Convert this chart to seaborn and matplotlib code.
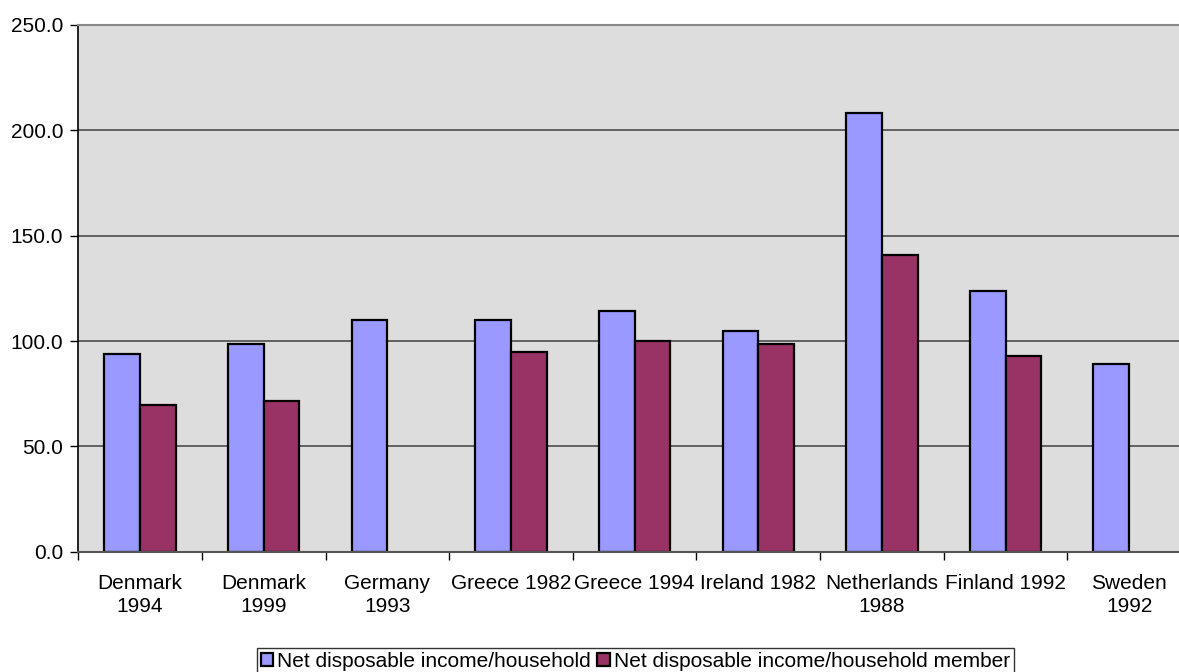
# Net disposable income bar chart, Excel-like look
import matplotlib
matplotlib.use('Agg')
import matplotlib.pyplot as plt
import matplotlib.ticker as mticker
import pandas as pd
import seaborn as sns

# data
countries = ['Denmark\n1994', 'Denmark\n1999', 'Germany\n1993', 'Greece 1982', 'Greece 1994',
             'Ireland 1982', 'Netherlands\n1988', 'Finland 1992', 'Sweden\n1992']
per_household = [93.8, 98.7, 110.1, 110.1, 114.4, 104.9, 208.1, 123.6, 89.1]
per_member = [69.6, 71.4, None, 94.8, 99.8, 98.4, 141.0, 93.0, None]
series_names = ['Net disposable income/household', 'Net disposable income/household member']

# long format table for seaborn, missing values dropped
rows = []
for c, a, b in zip(countries, per_household, per_member):
    rows.append({'Country': c, 'Series': series_names[0], 'Value': a})
    if b is not None:
        rows.append({'Country': c, 'Series': series_names[1], 'Value': b})
df = pd.DataFrame(rows)

sns.set_style('white')
plt.rcParams['font.family'] = ['Liberation Sans', 'DejaVu Sans']
plt.rcParams['font.size'] = 15
plt.rcParams['text.color'] = 'black'
plt.rcParams['xtick.color'] = 'black'
plt.rcParams['ytick.color'] = 'black'

palette = {series_names[0]: '#9999FF', series_names[1]: '#993366'}

fig = plt.figure(figsize=(11.79, 6.72), dpi=100)
ax = fig.add_axes([0.0664, 0.179, 0.9438, 0.7838])
ax.set_facecolor('#DDDDDD')

sns.barplot(data=df, x='Country', y='Value', hue='Series',
            order=countries, hue_order=series_names,
            palette=palette, saturation=1, width=0.578,
            edgecolor='black', linewidth=1.6, errorbar=None, ax=ax)

# axes look
ax.set_ylim(0, 250)
ax.set_xlim(-0.5, len(countries) - 0.5)
ax.yaxis.set_major_locator(mticker.MultipleLocator(50))
ax.yaxis.set_major_formatter(mticker.FormatStrFormatter('%.1f'))
ax.set_axisbelow(True)
ax.grid(axis='y', color='#404040', linewidth=1.1)
ax.grid(axis='x', visible=False)
ax.set_xlabel('')
ax.set_ylabel('')

# ticks on category boundaries, labels on centres
ax.set_xticks([i - 0.5 for i in range(len(countries) + 1)])
ax.set_xticklabels([])
ax.set_xticks(range(len(countries)), minor=True)
ax.set_xticklabels(countries, minor=True, linespacing=1.3)
ax.tick_params(axis='x', which='major', direction='out', length=6, width=1, color='black', bottom=True)
ax.tick_params(axis='x', which='minor', length=0, pad=16, labelsize=15, labelcolor='black')
ax.tick_params(axis='y', direction='out', length=6, width=1, color='black', left=True, pad=5,
               labelsize=15, labelcolor='black')

ax.spines['left'].set_color('black')
ax.spines['left'].set_linewidth(1.2)
ax.spines['bottom'].set_color('#555555')
ax.spines['bottom'].set_linewidth(1.5)
ax.spines['top'].set_color('#888888')
ax.spines['top'].set_linewidth(1.5)
ax.spines['right'].set_visible(False)

# legend in a box at the bottom
ax.get_legend().remove()
handles, labels = ax.get_legend_handles_labels()
leg = fig.legend(handles, labels, loc='upper center', bbox_to_anchor=(0.539, 0.036),
                 ncol=2, frameon=True, fancybox=False, edgecolor='black',
                 handlelength=0.6, handleheight=0.6, handletextpad=0.2,
                 columnspacing=0.3, borderpad=0.2, borderaxespad=0, fontsize=15)
leg.get_frame().set_linewidth(1.0)
for t in leg.get_texts():
    t.set_color('black')

fig.savefig('out.png', dpi=100)
